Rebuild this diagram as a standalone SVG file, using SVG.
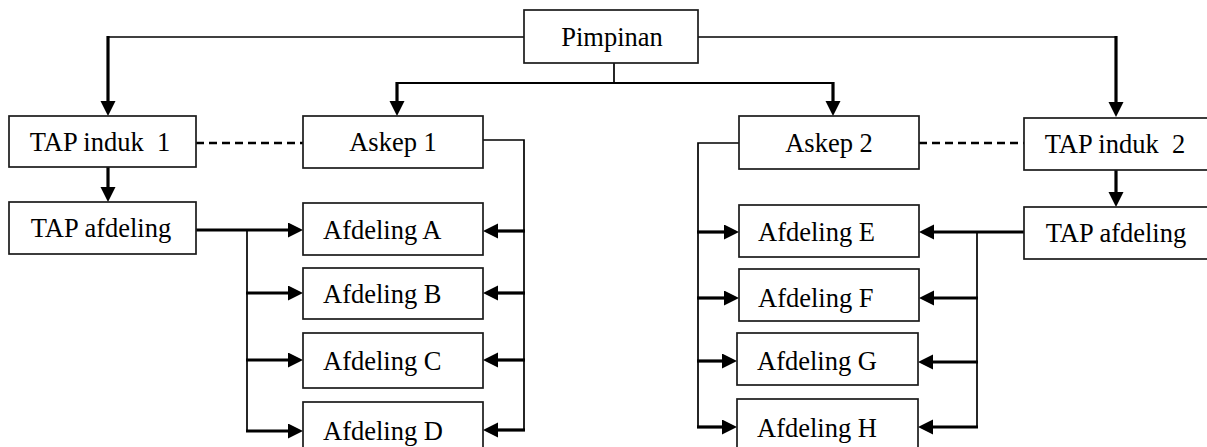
<svg xmlns="http://www.w3.org/2000/svg" width="1207" height="447" viewBox="0 0 1207 447">
<style>
.box{fill:#fff;stroke:#1a1a1a;stroke-width:1.7}
.t{font-family:"Liberation Serif","Times New Roman",serif;font-size:26.5px;fill:#000}
.m{text-anchor:middle}
.thin{fill:none;stroke:#000;stroke-width:1.7}
.thick{fill:none;stroke:#000;stroke-width:3.2}
.arr{fill:none;stroke:#000;stroke-width:3.2;marker-end:url(#ah)}
.dash{fill:none;stroke:#000;stroke-width:2.6;stroke-dasharray:8 5}
</style>
<defs>
<marker id="ah" markerUnits="userSpaceOnUse" markerWidth="16" markerHeight="16" refX="3" refY="7.5" orient="auto" viewBox="0 0 16 16">
<path d="M0,0 L15,7.5 L0,15 Z" fill="#000"/>
</marker>
</defs>
<g id="connectors">
<!-- top -->
<polyline class="thin" points="524,37 108,37"/>
<polyline class="thin" points="698,37 1116,37"/>
<line class="arr" x1="108" y1="36" x2="108" y2="104"/>
<line class="arr" x1="1116" y1="36" x2="1116" y2="105"/>
<line class="thin" x1="614" y1="63" x2="614" y2="83"/>
<line class="thick" x1="396" y1="83" x2="834" y2="83" style="stroke-width:2.2"/>
<line class="arr" x1="397" y1="82" x2="397" y2="104"/>
<line class="arr" x1="833" y1="82" x2="833" y2="104"/>
<!-- dashed -->
<line class="dash" x1="196" y1="143" x2="303" y2="143"/>
<line class="dash" x1="919" y1="143" x2="1024" y2="143"/>
<!-- TAP induk to TAP afdeling -->
<line class="arr" x1="108" y1="167" x2="108" y2="190"/>
<line class="arr" x1="1116" y1="170" x2="1116" y2="195"/>
<!-- left group -->
<line class="arr" x1="196" y1="230" x2="291" y2="230"/>
<line class="thin" x1="247" y1="230" x2="247" y2="432"/>
<line class="arr" x1="246" y1="293" x2="291" y2="293"/>
<line class="arr" x1="246" y1="360" x2="291" y2="360"/>
<line class="arr" x1="246" y1="431" x2="291" y2="431"/>
<polyline class="thin" points="483,140 524,140 524,431"/>
<line class="arr" x1="525" y1="231" x2="495" y2="231"/>
<line class="arr" x1="525" y1="293" x2="495" y2="293"/>
<line class="arr" x1="525" y1="360" x2="495" y2="360"/>
<line class="arr" x1="525" y1="430" x2="495" y2="430"/>
<!-- right group -->
<polyline class="thin" points="739,143 698,143 698,427"/>
<line class="arr" x1="697" y1="232" x2="727" y2="232"/>
<line class="arr" x1="697" y1="298" x2="727" y2="298"/>
<line class="arr" x1="697" y1="361" x2="725" y2="361"/>
<line class="arr" x1="697" y1="427" x2="725" y2="427"/>
<line class="arr" x1="1024" y1="232" x2="931" y2="232"/>
<line class="thin" x1="977" y1="232" x2="977" y2="427"/>
<line class="arr" x1="978" y1="298" x2="931" y2="298"/>
<line class="arr" x1="978" y1="362" x2="930" y2="362"/>
<line class="arr" x1="978" y1="427" x2="930" y2="427"/>
</g>
<g id="pimpinan"><rect class="box" x="524" y="10" width="174" height="53"/><text class="t m" x="612" y="46">Pimpinan</text></g>
<g id="tap-induk-1"><rect class="box" x="9" y="116" width="187" height="51"/><text class="t m" x="100" y="151" xml:space="preserve">TAP induk  1</text></g>
<g id="askep-1"><rect class="box" x="303" y="116" width="180" height="52"/><text class="t m" x="393" y="151">Askep 1</text></g>
<g id="askep-2"><rect class="box" x="739" y="116" width="180" height="53"/><text class="t m" x="829" y="152">Askep 2</text></g>
<g id="tap-induk-2"><rect class="box" x="1024" y="118" width="185" height="52"/><text class="t m" x="1115" y="153" xml:space="preserve">TAP induk  2</text></g>
<g id="tap-afdeling-1"><rect class="box" x="9" y="202" width="187" height="52"/><text class="t m" x="101" y="237">TAP afdeling</text></g>
<g id="tap-afdeling-2"><rect class="box" x="1024" y="207" width="185" height="52"/><text class="t m" x="1116" y="242">TAP afdeling</text></g>
<g id="afdeling-a"><rect class="box" x="303" y="203" width="180" height="52"/><text class="t" x="323" y="239">Afdeling A</text></g>
<g id="afdeling-b"><rect class="box" x="303" y="268" width="180" height="51"/><text class="t" x="323" y="303">Afdeling B</text></g>
<g id="afdeling-c"><rect class="box" x="303" y="333" width="180" height="55"/><text class="t" x="323" y="370">Afdeling C</text></g>
<g id="afdeling-d"><rect class="box" x="303" y="402" width="180" height="54"/><text class="t" x="323" y="440">Afdeling D</text></g>
<g id="afdeling-e"><rect class="box" x="739" y="205" width="180" height="52"/><text class="t" x="758" y="241">Afdeling E</text></g>
<g id="afdeling-f"><rect class="box" x="739" y="269" width="180" height="52"/><text class="t" x="758" y="307">Afdeling F</text></g>
<g id="afdeling-g"><rect class="box" x="737" y="333" width="181" height="52"/><text class="t" x="757" y="370">Afdeling G</text></g>
<g id="afdeling-h"><rect class="box" x="737" y="399" width="181" height="54"/><text class="t" x="757" y="437">Afdeling H</text></g>
</svg>
